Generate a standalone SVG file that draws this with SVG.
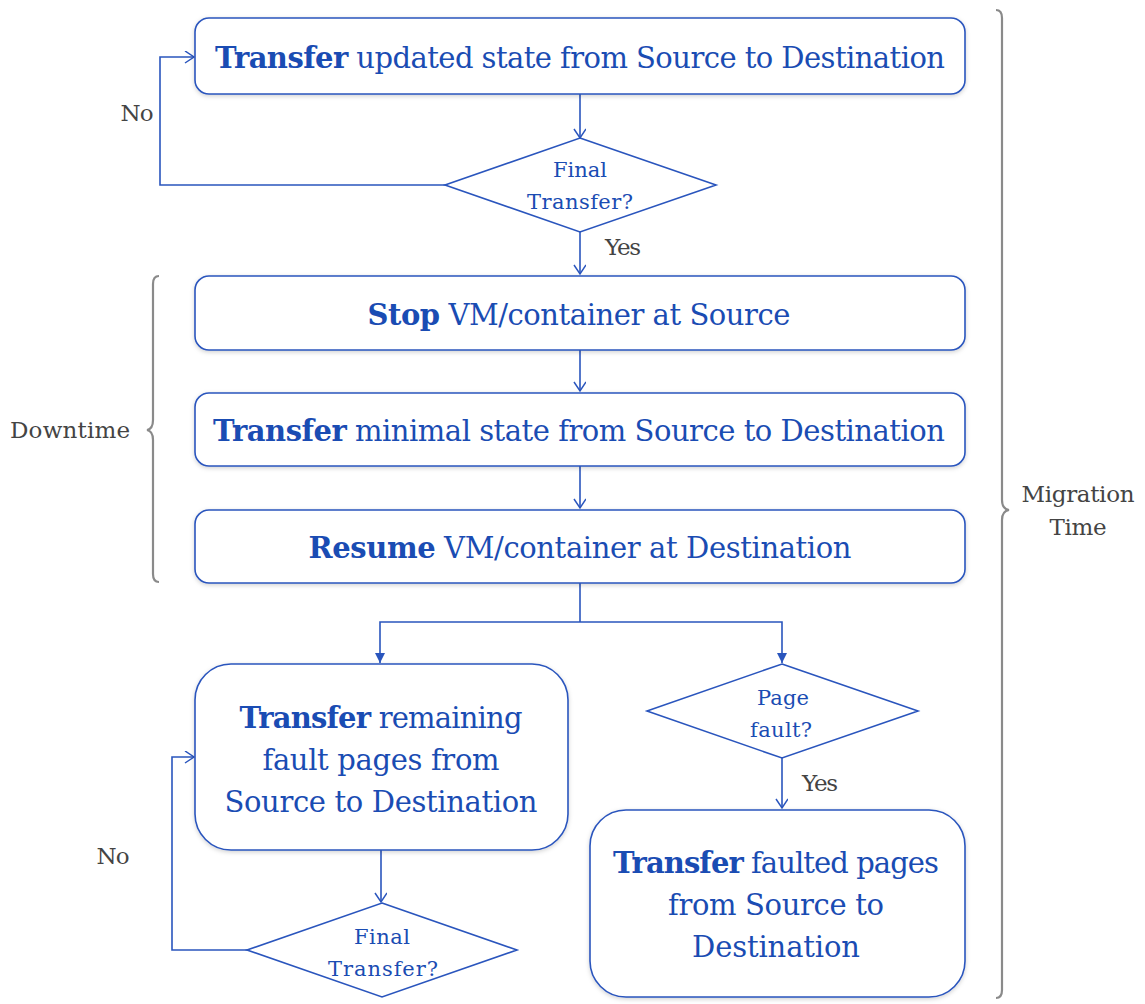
<svg xmlns="http://www.w3.org/2000/svg" width="1145" height="1004" viewBox="0 0 1145 1004">
<style>
.box{fill:#fff;stroke:#2a55bd;stroke-width:1.6;filter:url(#sh)}
.dia{fill:#fff;stroke:#2a55bd;stroke-width:1.6}
.t{font-family:"DejaVu Serif",serif;font-size:29px;fill:#1a4cb3;text-anchor:middle}
.b{font-weight:bold}
.d{font-family:"DejaVu Serif",serif;font-size:21px;fill:#1a4cb3;text-anchor:middle}
.g{font-family:"DejaVu Serif",serif;font-size:23px;fill:#444;text-anchor:middle}
.c{fill:none;stroke:#2a55bd;stroke-width:1.6}
.br{fill:none;stroke:#8a8a8a;stroke-width:2.2}
</style>
<defs>
<filter id="sh" x="-5%" y="-10%" width="110%" height="125%"><feDropShadow dx="0" dy="1.5" stdDeviation="2" flood-color="#000" flood-opacity="0.18"/></filter>
<marker id="open" markerWidth="14" markerHeight="14" refX="10" refY="6" orient="auto" markerUnits="userSpaceOnUse"><path d="M1,0 L10,6 L1,12" fill="none" stroke="#2a55bd" stroke-width="1.5"/></marker>
<marker id="fill" markerWidth="12" markerHeight="12" refX="10" refY="5" orient="auto" markerUnits="userSpaceOnUse"><path d="M0,0 L10,5 L0,10 Z" fill="#2a55bd"/></marker>
</defs>
<rect width="1145" height="1004" fill="#fff"/>

<g id="connectors">
<path class="c" d="M580,94 V138" marker-end="url(#open)"/>
<path class="c" d="M445,185 H160 V57 H194" marker-end="url(#open)"/>
<path class="c" d="M580,232 V274" marker-end="url(#open)"/>
<path class="c" d="M580,350 V391" marker-end="url(#open)"/>
<path class="c" d="M580,466 V508" marker-end="url(#open)"/>
<path class="c" d="M580,583 V622" stroke-width="2.4"/>
<path class="c" d="M580,622 H380 V663" marker-end="url(#fill)"/>
<path class="c" d="M580,622 H782 V663" marker-end="url(#fill)"/>
<path class="c" d="M782,758 V808" marker-end="url(#open)"/>
<path class="c" d="M381,850 V902" marker-end="url(#open)"/>
<path class="c" d="M247,950 H172 V757 H194" marker-end="url(#open)"/>
<text class="g" x="137" y="121" textLength="33">No</text>
<text class="g" x="623" y="255" textLength="36">Yes</text>
<text class="g" x="820" y="791" textLength="36">Yes</text>
<text class="g" x="113" y="864" textLength="33">No</text>
</g>

<g id="box1">
<rect class="box" x="195" y="18" width="770" height="76" rx="14"/>
<text class="t" x="580" y="68" textLength="730"><tspan class="b">Transfer</tspan> updated state from Source to Destination</text>
</g>
<g id="dec1">
<polygon class="dia" points="580,138 716,185 580,232 445,185"/>
<text class="d" x="580" y="177" textLength="54">Final</text>
<text class="d" x="580" y="209" textLength="106">Transfer?</text>
</g>
<g id="box2">
<rect class="box" x="195" y="276" width="770" height="74" rx="14"/>
<text class="t" x="579" y="325" textLength="423"><tspan class="b">Stop</tspan> VM/container at Source</text>
</g>
<g id="box3">
<rect class="box" x="195" y="393" width="770" height="73" rx="14"/>
<text class="t" x="579" y="441" textLength="732"><tspan class="b">Transfer</tspan> minimal state from Source to Destination</text>
</g>
<g id="box4">
<rect class="box" x="195" y="510" width="770" height="73" rx="14"/>
<text class="t" x="580" y="558" textLength="543"><tspan class="b">Resume</tspan> VM/container at Destination</text>
</g>
<g id="box5">
<rect class="box" x="195" y="664" width="373" height="186" rx="36"/>
<text class="t" x="381" y="728" textLength="283"><tspan class="b">Transfer</tspan> remaining</text>
<text class="t" x="381" y="770" textLength="237">fault pages from</text>
<text class="t" x="381" y="812" textLength="313">Source to Destination</text>
</g>
<g id="dec2">
<polygon class="dia" points="782,664 918,711 782,758 647,711"/>
<text class="d" x="783" y="705" textLength="52">Page</text>
<text class="d" x="781" y="737" textLength="62">fault?</text>
</g>
<g id="box6">
<rect class="box" x="590" y="810" width="375" height="187" rx="36"/>
<text class="t" x="776" y="873" textLength="326"><tspan class="b">Transfer</tspan> faulted pages</text>
<text class="t" x="776" y="915" textLength="216">from Source to</text>
<text class="t" x="776" y="957" textLength="168">Destination</text>
</g>
<g id="dec3">
<polygon class="dia" points="382,903 517,950 382,997 247,950"/>
<text class="d" x="382" y="944" textLength="56">Final</text>
<text class="d" x="383" y="976" textLength="110">Transfer?</text>
</g>

<g id="downtime">
<path class="br" d="M159,276 Q153,276 153,284 V420 Q153,429 147,430 Q153,431 153,440 V574 Q153,582 159,582"/>
<text class="g" x="70" y="438" textLength="120">Downtime</text>
</g>
<g id="migration">
<path class="br" d="M996,10 Q1002,10 1002,18 V500 Q1002,509 1009,510 Q1002,511 1002,520 V990 Q1002,998 996,998"/>
<text class="g" x="1078" y="502" textLength="113">Migration</text>
<text class="g" x="1078" y="535" textLength="57">Time</text>
</g>
</svg>
